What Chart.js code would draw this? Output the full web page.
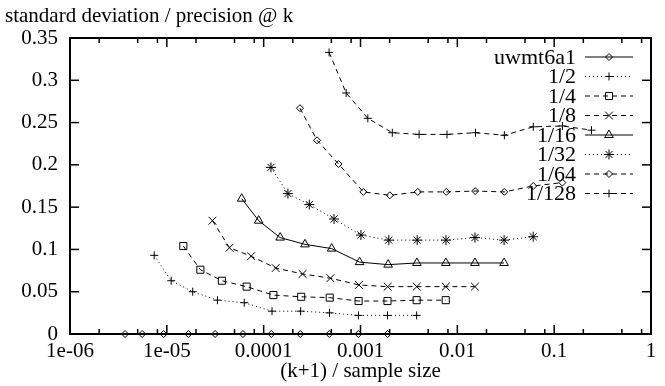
<!DOCTYPE html>
<html>
<head>
<meta charset="utf-8">
<script src="https://cdn.jsdelivr.net/npm/chart.js@4"></script>
<style>
  body { margin: 0; background: #fff; }
  #wrap { width: 665px; height: 386px; }
</style>
</head>
<body>
<div id="wrap"><canvas id="plot" width="665" height="386"></canvas></div>
<script>
// values
const seriesNames = ['uwmt6a1', '1/2', '1/4', '1/8', '1/16', '1/32', '1/64', '1/128'];

const xFull  = [3.70e-6, 5.56e-6, 9.26e-6, 1.67e-5, 3.15e-5, 6.11e-5, 1.20e-4, 2.39e-4, 4.76e-4, 9.50e-4, 1.90e-3];
const xHalf  = [7.41e-6, 1.11e-5, 1.85e-5, 3.33e-5, 6.30e-5, 1.22e-4, 2.41e-4, 4.78e-4, 9.52e-4, 1.90e-3, 3.80e-3];
const xQuart = [1.48e-5, 2.22e-5, 3.70e-5, 6.67e-5, 1.26e-4, 2.44e-4, 4.81e-4, 9.56e-4, 1.90e-3, 3.80e-3, 7.59e-3];
const x8     = [2.96e-5, 4.44e-5, 7.41e-5, 1.33e-4, 2.52e-4, 4.89e-4, 9.63e-4, 1.91e-3, 3.81e-3, 7.60e-3, 1.52e-2];
const x16    = [5.93e-5, 8.89e-5, 1.48e-4, 2.67e-4, 5.04e-4, 9.78e-4, 1.93e-3, 3.82e-3, 7.61e-3, 1.52e-2, 3.04e-2];
const x32    = [1.19e-4, 1.78e-4, 2.96e-4, 5.33e-4, 1.01e-3, 1.96e-3, 3.85e-3, 7.64e-3, 1.52e-2, 3.04e-2, 6.07e-2];
const x64    = [2.37e-4, 3.56e-4, 5.93e-4, 1.07e-3, 2.01e-3, 3.91e-3, 7.70e-3, 1.53e-2, 3.05e-2, 6.08e-2, 0.1215];
const x128   = [4.74e-4, 7.11e-4, 1.19e-3, 2.13e-3, 4.03e-3, 7.82e-3, 1.54e-2, 3.06e-2, 6.09e-2, 0.1216, 0.243];

const yFull  = [0, 0, 0, 0, 0, 0, 0, 0, 0, 0, 0];
const yHalf  = [0.093, 0.063, 0.050, 0.040, 0.037, 0.027, 0.027, 0.025, 0.022, 0.022, 0.022];
const yQuart = [0.104, 0.076, 0.063, 0.056, 0.046, 0.044, 0.043, 0.039, 0.039, 0.040, 0.040];
const y8     = [0.134, 0.102, 0.092, 0.078, 0.071, 0.066, 0.058, 0.056, 0.056, 0.056, 0.056];
const y16    = [0.160, 0.134, 0.114, 0.106, 0.101, 0.085, 0.082, 0.084, 0.084, 0.084, 0.084];
const y32    = [0.197, 0.166, 0.153, 0.136, 0.117, 0.111, 0.111, 0.111, 0.114, 0.111, 0.115];
const y64    = [0.267, 0.229, 0.201, 0.168, 0.164, 0.168, 0.168, 0.169, 0.168, 0.175, 0.179];
const y128   = [0.333, 0.285, 0.255, 0.238, 0.236, 0.236, 0.238, 0.235, 0.245, 0.246, 0.241];

const xTickValues = [1e-6, 1e-5, 1e-4, 1e-3, 1e-2, 1e-1, 1];
const xTickLabels = ['1e-06', '1e-05', '0.0001', '0.001', '0.01', '0.1', '1'];
const yTickValues = [0, 0.05, 0.1, 0.15, 0.2, 0.25, 0.3, 0.35];
const yTickLabels = ['0', '0.05', '0.1', '0.15', '0.2', '0.25', '0.3', '0.35'];

const titleText = 'standard deviation / precision @ k';
const xTitleText = '(k+1) / sample size';

const xs = [xFull, xHalf, xQuart, x8, x16, x32, x64, x128];
const ys = [yFull, yHalf, yQuart, y8, y16, y32, y64, y128];

const styles = [
  { pointStyle: 'rectRot',  pointRadius: 3.5, borderDash: [] },
  { pointStyle: 'cross',    pointRadius: 4,   borderDash: [1, 3] },
  { pointStyle: 'rect',     pointRadius: 5,   borderDash: [5, 4] },
  { pointStyle: 'crossRot', pointRadius: 5.5, borderDash: [5, 4] },
  { pointStyle: 'triangle', pointRadius: 5,   borderDash: [] },
  { pointStyle: 'star',     pointRadius: 5,   borderDash: [1, 3] },
  { pointStyle: 'rectRot',  pointRadius: 3.5, borderDash: [5, 4] },
  { pointStyle: 'cross',    pointRadius: 4,   borderDash: [5, 4] }
];

const FONT = 'Liberation Serif';

const datasets = seriesNames.map((name, i) => ({
  label: name,
  data: xs[i].map((x, j) => ({ x: x, y: ys[i][j] })),
  borderColor: '#000',
  borderWidth: 1,
  borderDash: styles[i].borderDash,
  pointStyle: styles[i].pointStyle,
  pointRadius: styles[i].pointRadius,
  pointBorderWidth: 1,
  pointBorderColor: '#000',
  pointBackgroundColor: 'rgba(0,0,0,0)',
  tension: 0,
  clip: false
}));

function seg(ctx, x1, y1, x2, y2) {
  ctx.beginPath();
  ctx.moveTo(x1, y1);
  ctx.lineTo(x2, y2);
  ctx.stroke();
}

const gnuFrame = {
  id: 'gnuFrame',
  afterDraw(chart) {
    const { ctx, chartArea: a } = chart;
    const sx = chart.scales.x, sy = chart.scales.y;
    ctx.save();
    ctx.strokeStyle = '#000';
    ctx.setLineDash([]);

    // tick marks, mirrored on both sides, pointing inwards
    ctx.lineWidth = 1.5;
    xTickValues.forEach(v => {
      const px = sx.getPixelForValue(v);
      seg(ctx, px, a.bottom, px, a.bottom - 9);
      seg(ctx, px, a.top, px, a.top + 9);
    });
    xTickValues.slice(0, -1).forEach(d => {
      [2, 5, 8].forEach(m => {
        const px = sx.getPixelForValue(d * m);
        seg(ctx, px, a.bottom, px, a.bottom - 5);
        seg(ctx, px, a.top, px, a.top + 5);
      });
    });
    yTickValues.forEach(v => {
      const py = sy.getPixelForValue(v);
      seg(ctx, a.left, py, a.left + 9, py);
      seg(ctx, a.right, py, a.right - 9, py);
    });

    ctx.lineWidth = 2;
    ctx.strokeRect(a.left, a.top, a.right - a.left, a.bottom - a.top);

    // top-left caption
    ctx.fillStyle = '#000';
    ctx.font = '21px "' + FONT + '"';
    ctx.textAlign = 'left';
    ctx.textBaseline = 'alphabetic';
    ctx.fillText(titleText, 5, 22);

    // key, gnuplot style: right-aligned text, sample to the right
    ctx.font = '22px "' + FONT + '"';
    ctx.textAlign = 'right';
    ctx.textBaseline = 'middle';
    chart.data.datasets.forEach((ds, i) => {
      const ry = 57 + 19.5 * i;
      ctx.fillText(ds.label, 576, ry + 1);
      ctx.lineWidth = 1;
      ctx.setLineDash(ds.borderDash);
      seg(ctx, 585, ry, 633, ry);
      ctx.setLineDash([]);
      ctx.fillStyle = 'rgba(0,0,0,0)';
      Chart.helpers.drawPoint(ctx, {
        pointStyle: ds.pointStyle,
        radius: ds.pointRadius,
        rotation: 0,
        borderWidth: 1
      }, 609, ry);
      ctx.fillStyle = '#000';
    });
    ctx.restore();
  }
};

new Chart(document.getElementById('plot'), {
  type: 'line',
  data: { datasets: datasets },
  plugins: [gnuFrame],
  options: {
    responsive: false,
    animation: false,
    events: [],
    layout: { padding: { top: 38, right: 14, left: 0, bottom: 0 } },
    plugins: { legend: { display: false }, tooltip: { enabled: false } },
    scales: {
      x: {
        type: 'logarithmic',
        min: 1e-6,
        max: 1,
        afterFit: s => { s.height = 52; },
        afterBuildTicks: s => { s.ticks = xTickValues.map(v => ({ value: v })); },
        grid: { display: false, drawTicks: false },
        border: { display: false },
        ticks: {
          autoSkip: false,
          maxRotation: 0,
          padding: 5,
          color: '#000',
          font: { family: FONT, size: 21 },
          callback: (v, i) => xTickLabels[i]
        },
        title: {
          display: true,
          text: xTitleText,
          color: '#000',
          font: { family: FONT, size: 21 },
          padding: { top: 0, bottom: 2 }
        }
      },
      y: {
        type: 'linear',
        min: 0,
        max: 0.35,
        afterFit: s => { s.width = 70; },
        afterBuildTicks: s => { s.ticks = yTickValues.map(v => ({ value: v })); },
        grid: { display: false, drawTicks: false },
        border: { display: false },
        ticks: {
          autoSkip: false,
          padding: 12,
          color: '#000',
          font: { family: FONT, size: 21 },
          callback: (v, i) => yTickLabels[i]
        }
      }
    }
  }
});
</script>
</body>
</html>
